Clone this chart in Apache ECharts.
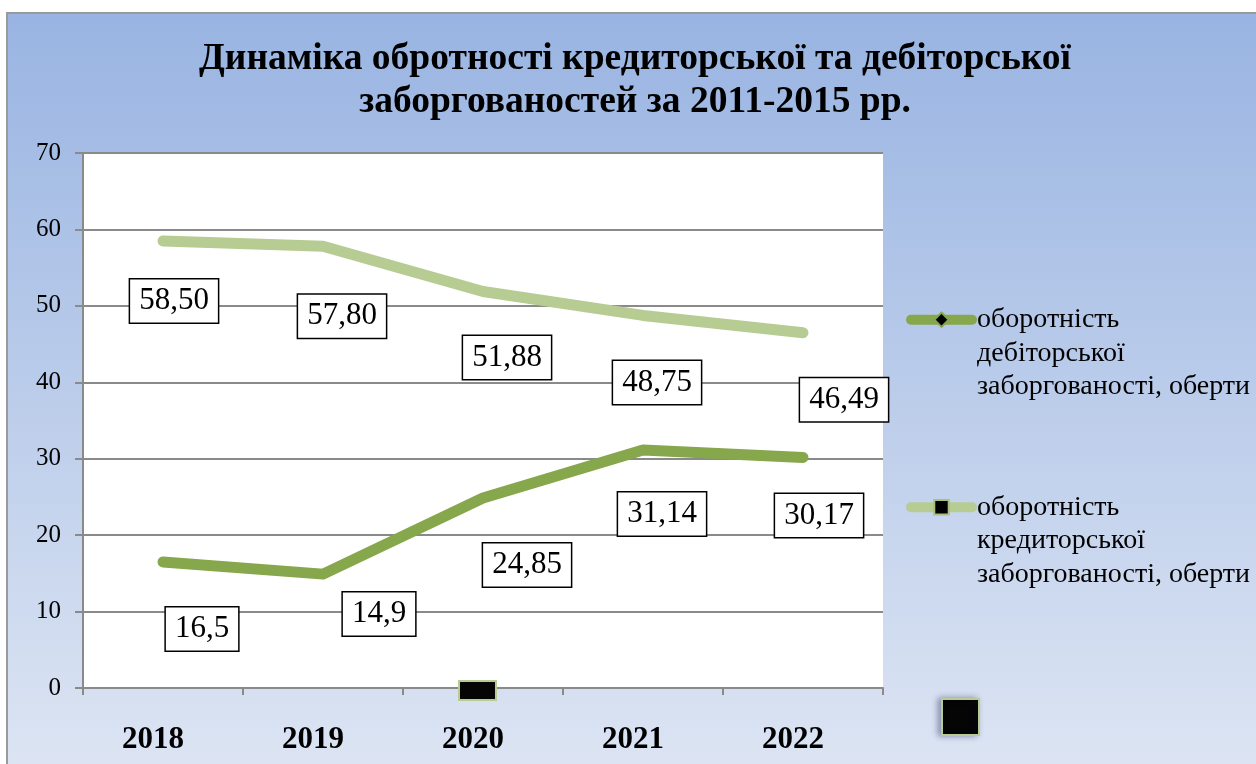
<!DOCTYPE html>
<html><head><meta charset="utf-8">
<script src="https://cdn.jsdelivr.net/npm/echarts@6/dist/echarts.min.js"></script>
<style>html,body{margin:0;padding:0;background:#fff}#c{width:1256px;height:764px}</style>
</head><body><div id="c"></div>
<script>
const years = ['2018', '2019', '2020', '2021', '2022'];
const receivableTurnover = [16.5, 14.9, 24.85, 31.14, 30.17];
const payableTurnover = [58.50, 57.80, 51.88, 48.75, 46.49];
const yTicks = {min: 0, max: 70, interval: 10};
const seriesNames = ['оборотність\nдебіторської\nзаборгованості, оберти', 'оборотність\nкредиторської\nзаборгованості, оберти'];
const titleText = 'Динаміка обротності кредиторської та дебіторської\nзаборгованостей за 2011-2015 рр.';

// label placement (layout only)
const recOffsets = [[39, 67], [56, 40], [44, 67], [19, 64], [16, 58]];
const payOffsets = [[11, 60], [19, 70], [24, 66], [14, 67], [41, 67]];

const serif = "'Liberation Serif', serif";
const darkGreen = '#86a74b';
const lightGreen = '#b6cc93';

function fmt(v, fixed) {
  return (fixed ? v.toFixed(2) : String(v)).replace('.', ',');
}
const labelBase = {
  show: true, position: 'inside', color: '#000', fontFamily: serif, fontSize: 31,
  lineHeight: 36, backgroundColor: '#fff', borderColor: '#000', borderWidth: 1.5,
  padding: [5, 9, 2, 9]
};

const chart = echarts.init(document.getElementById('c'), null, {renderer: 'canvas'});
chart.setOption({
  animation: false,
  backgroundColor: '#ffffff',
  graphic: [
    {type: 'rect', z: -100, shape: {x: 7, y: 13, width: 1260, height: 760},
     style: {fill: {type: 'linear', x: 0, y: 0, x2: 0, y2: 1, colorStops: [
       {offset: 0, color: '#99b4e2'}, {offset: 1, color: '#dde5f3'}]},
       stroke: '#9a9a9a', lineWidth: 2}},
    {type: 'rect', z: 100, shape: {x: 459, y: 681, width: 37, height: 19},
     style: {fill: '#050505', stroke: '#b6cc93', lineWidth: 2}},
    {type: 'rect', z: 100, shape: {x: 942, y: 699, width: 37, height: 36},
     style: {fill: '#050505', stroke: '#b6cc93', lineWidth: 2, shadowBlur: 6, shadowColor: 'rgba(0,0,60,0.35)', shadowOffsetX: -3}}
  ],
  title: {
    text: titleText, left: 635, top: 38, textAlign: 'center', padding: 0,
    textStyle: {fontFamily: serif, fontSize: 37.5, fontWeight: 'bold', color: '#000', lineHeight: 43}
  },
  legend: {
    orient: 'vertical', left: 906, top: 236, padding: 0, itemGap: 20,
    itemWidth: 61, itemHeight: 18,
    lineStyle: {width: 10, cap: 'round'},
    formatter: name => '\n\n' + name,
    textStyle: {fontFamily: serif, fontSize: 28, lineHeight: 33.5, color: '#000'},
    data: seriesNames
  },
  grid: {left: 83, top: 153, right: 373, bottom: 76, show: true, backgroundColor: '#fff', borderWidth: 0, containLabel: false},
  xAxis: {
    type: 'category', data: years, boundaryGap: true,
    axisLine: {lineStyle: {color: '#8a8a8a', width: 2}},
    axisTick: {show: true, length: 7, lineStyle: {color: '#8a8a8a', width: 2}},
    axisLabel: {fontFamily: serif, fontSize: 31, fontWeight: 'bold', color: '#000', margin: 36, padding: [0, 20, 0, 0]}
  },
  yAxis: {
    type: 'value', min: yTicks.min, max: yTicks.max, interval: yTicks.interval,
    axisLine: {show: true, lineStyle: {color: '#8a8a8a', width: 2}},
    axisTick: {show: true, length: 8, lineStyle: {color: '#8a8a8a', width: 2}},
    splitLine: {lineStyle: {color: '#8a8a8a', width: 2}},
    axisLabel: {fontFamily: serif, fontSize: 25, color: '#000', margin: 22}
  },
  series: [
    {
      name: seriesNames[0], type: 'line', symbol: 'diamond', symbolSize: 0, showSymbol: true,
      lineStyle: {color: darkGreen, width: 11, cap: 'round', join: 'round'},
      itemStyle: {color: '#000', borderColor: darkGreen, borderWidth: 2},
      data: receivableTurnover.map((v, i) => ({value: v, label: Object.assign({}, labelBase, {offset: recOffsets[i], formatter: () => fmt(v, false)})})),
      z: 3
    },
    {
      name: seriesNames[1], type: 'line', symbol: 'rect', symbolSize: 0, showSymbol: true,
      lineStyle: {color: lightGreen, width: 11, cap: 'round', join: 'round'},
      itemStyle: {color: '#000', borderColor: '#a8bf80', borderWidth: 2},
      data: payableTurnover.map((v, i) => ({value: v, label: Object.assign({}, labelBase, {offset: payOffsets[i], formatter: () => fmt(v, true)})})),
      z: 2
    }
  ]
});
</script>
</body></html>
